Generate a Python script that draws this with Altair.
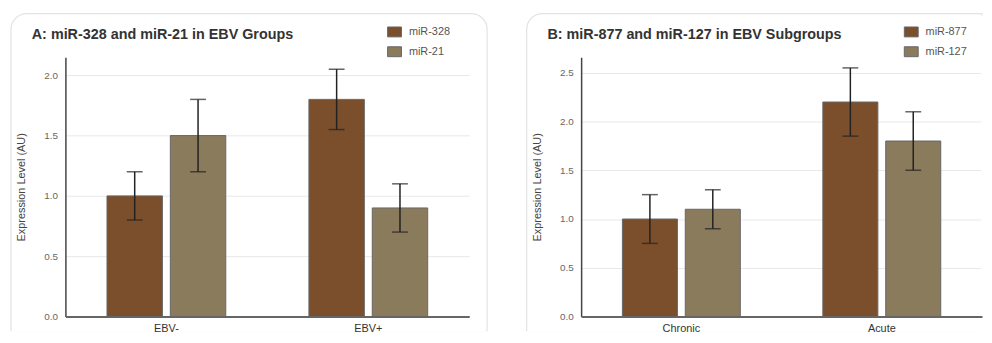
import altair as alt
import pandas as pd

# ---- data ----
groups_a = ["EBV-", "EBV+"]
series_a = ["miR-328", "miR-21"]
means_a = [[1.0, 1.5], [1.8, 0.9]]
errs_a = [[0.2, 0.3], [0.25, 0.2]]
ticks_a = [0.0, 0.5, 1.0, 1.5, 2.0]

groups_b = ["Chronic", "Acute"]
series_b = ["miR-877", "miR-127"]
means_b = [[1.0, 1.1], [2.2, 1.8]]
errs_b = [[0.25, 0.2], [0.35, 0.3]]
ticks_b = [0.0, 0.5, 1.0, 1.5, 2.0, 2.5]

colors = ["#7b4f2b", "#8a7b5c"]

FONT = "Liberation Sans"
H = 262


def frame(groups, series, means, errs):
    rows = []
    for gi, g in enumerate(groups):
        for si, s in enumerate(series):
            m = means[gi][si]
            e = errs[gi][si]
            rows.append({"group": g, "series": s, "mean": m, "lo": m - e, "hi": m + e})
    return pd.DataFrame(rows)


def panel(title, groups, series, means, errs, ymax, ticks, W, card_right, cut_right, legend_x):
    df = frame(groups, series, means, errs)
    k = W / 408.0
    bar_w = 56 * k
    half = 32 * k
    x = alt.X("group:N", sort=groups, title=None,
              scale=alt.Scale(domain=groups, paddingInner=0, paddingOuter=0),
              axis=alt.Axis(labelAngle=0, labelFontSize=11, labelColor="#333",
                            labelPadding=6, ticks=False, domainColor="#666",
                            domainWidth=2, grid=False, labelFont=FONT, zindex=2))
    yscale = alt.Scale(domain=[0, ymax], nice=False, zero=True)
    y = alt.Y("mean:Q", scale=yscale, title="Expression Level (AU)",
              axis=alt.Axis(values=ticks, format=".1f", ticks=False,
                            labelFontSize=10, labelColor="#666", labelPadding=8,
                            minExtent=34, maxExtent=34, titlePadding=5,
                            titleFontSize=11, titleFontWeight="normal",
                            titleColor="#444", titleFont=FONT, labelFont=FONT,
                            domainColor="#444", domainWidth=1.5,
                            gridColor="#e8e8e8", gridWidth=1))
    color = alt.Color("series:N", sort=series,
                      scale=alt.Scale(domain=series, range=colors),
                      legend=alt.Legend(title=None, orient="none",
                                        legendX=legend_x, legendY=-33))

    one = alt.Data(values=[{"k": 1}])
    card = alt.Chart(one).mark_rect(
        cornerRadiusTopLeft=16, cornerRadiusTopRight=0 if cut_right else 16,
        fillOpacity=0, stroke="#e3e3e3", strokeWidth=1.2
    ).encode(x=alt.value(-55), x2=alt.value(card_right),
             y=alt.value(-44), y2=alt.value(H + 16))
    cover_b = alt.Chart(one).mark_rule(color="white", strokeWidth=2).encode(
        x=alt.value(-57), x2=alt.value(card_right + 1), y=alt.value(H + 16))
    layers = [card, cover_b]
    if cut_right:
        cover_r = alt.Chart(one).mark_rule(color="white", strokeWidth=2).encode(
            x=alt.value(card_right), y=alt.value(-42), y2=alt.value(H + 16))
        layers.append(cover_r)

    for i, s in enumerate(series):
        sub = alt.Chart(df[df["series"] == s])
        off = -half if i == 0 else half
        layers.append(sub.mark_bar(stroke="#666", strokeWidth=1, width=bar_w,
                                   xOffset=off).encode(x=x, y=y, color=color))
    for i, s in enumerate(series):
        sub = alt.Chart(df[df["series"] == s])
        off = -half if i == 0 else half
        layers.append(sub.mark_rule(color="#222", strokeWidth=1.5, xOffset=off).encode(
            x=alt.X("group:N", sort=groups), y=alt.Y("lo:Q", scale=yscale), y2="hi:Q"))
        for fld in ["lo", "hi"]:
            layers.append(sub.mark_tick(color="#222", thickness=1.5, size=16,
                                        orient="horizontal", xOffset=off).encode(
                x=alt.X("group:N", sort=groups), y=alt.Y(f"{fld}:Q", scale=yscale)))

    return alt.layer(*layers).properties(
        width=W, height=H,
        title=alt.TitleParams(title, anchor="start", frame="group", dx=-34,
                              offset=-30, fontSize=14.5, fontWeight="bold",
                              color="#333", font=FONT)
    )


pa = panel("A: miR-328 and miR-21 in EBV Groups", groups_a, series_a, means_a, errs_a,
           2.15, ticks_a, 408, 426, False, 325)
pb = panel("B: miR-877 and miR-127 in EBV Subgroups", groups_b, series_b, means_b, errs_b,
           2.66, ticks_b, 405, 405, True, 326)

chart = alt.hconcat(pa, pb, spacing=35).resolve_scale(color="independent").configure(
    padding={"left": 0, "top": 3, "right": 0, "bottom": 0},
    font=FONT,
    background="white",
).configure_view(stroke=None).configure_legend(
    padding=0, offset=0, labelFontSize=11, labelColor="#555", labelFont=FONT,
    symbolType="M-1,-0.714L1,-0.714L1,0.714L-1,0.714Z", symbolSize=196,
    symbolStrokeColor="#666", symbolStrokeWidth=1, symbolOpacity=1,
    rowPadding=5, labelOffset=7
)

chart.save("out.html", embed_options={"renderer": "svg", "actions": False})
